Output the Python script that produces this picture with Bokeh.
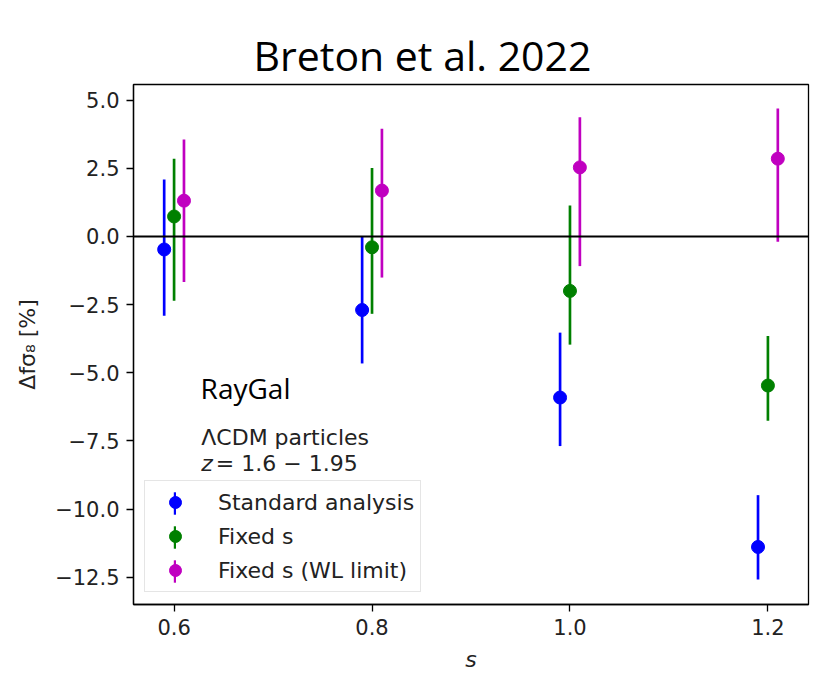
from bokeh.plotting import figure
from bokeh.models import (ColumnDataSource, Range1d, FixedTicker, CustomJSTickFormatter,
                          Span, Label, Legend, LegendItem, Title)
from bokeh.embed import file_html
from bokeh.resources import INLINE

# ---------------- data ----------------
S_VALUES = [0.6, 0.8, 1.0, 1.2]

SERIES_NAMES = ["Standard analysis", "Fixed s", "Fixed s (WL limit)"]

STD_CENTER = [-0.48, -2.70, -5.91, -11.39]
STD_LOW = [-2.91, -4.66, -7.69, -12.58]
STD_HIGH = [2.09, 0.00, -3.53, -9.49]

FIX_CENTER = [0.73, -0.40, -2.00, -5.47]
FIX_LOW = [-2.36, -2.84, -3.97, -6.76]
FIX_HIGH = [2.85, 2.51, 1.13, -3.65]

WL_CENTER = [1.31, 1.68, 2.53, 2.85]
WL_LOW = [-1.67, -1.51, -1.09, -0.20]
WL_HIGH = [3.55, 3.95, 4.37, 4.69]

X_TICKS = [0.6, 0.8, 1.0, 1.2]
X_TICK_LABELS = ["0.6", "0.8", "1.0", "1.2"]
Y_TICKS = [-12.5, -10.0, -7.5, -5.0, -2.5, 0.0, 2.5, 5.0]
Y_TICK_LABELS = ["\u221212.5", "\u221210.0", "\u22127.5", "\u22125.0", "\u22122.5", "0.0", "2.5", "5.0"]

TITLE = "Breton et al. 2022"
X_LABEL = "s"
Y_LABEL = "\u0394f\u03c3\u2088 [%]"

# ---------------- style ----------------
COLORS = ["#0000ff", "#008000", "#c000c0"]
DODGE = [-0.01, 0.0, 0.01]
BAR_W = 0.0027          # error-bar thickness in x data units (~2.7 px)
FONT = "DejaVu Sans"

p = figure(width=813, height=674, output_backend="svg", toolbar_location=None, tools="",
           x_range=Range1d(0.559, 1.241), y_range=Range1d(-13.5, 5.57),
           min_border_left=133, min_border_right=5, min_border_top=84, min_border_bottom=67)
p.title = None
p.background_fill_color = "white"
p.border_fill_color = "white"
p.outline_line_color = "black"
p.outline_line_width = 1.3
p.xgrid.visible = False
p.ygrid.visible = False

# visible title, then a transparent spacer between it and the frame
p.add_layout(Title(text=TITLE, align="left", offset=120, vertical_align="top", standoff=0,
                   text_font="Open Sans", text_font_size="41px", text_font_style="normal",
                   text_color="black"), "above")
p.add_layout(Title(text=" ", text_font_size="10px", text_alpha=0, standoff=14), "above")

for ax, tks, lbls in ((p.xaxis[0], X_TICKS, X_TICK_LABELS), (p.yaxis[0], Y_TICKS, Y_TICK_LABELS)):
    ax.ticker = FixedTicker(ticks=tks)
    ax.formatter = CustomJSTickFormatter(
        args=dict(tvals=tks, tlabels=lbls),
        code="const i = tvals.findIndex(t => Math.abs(t - tick) < 1e-9); return i >= 0 ? tlabels[i] : '';")
    ax.axis_line_color = "black"
    ax.axis_line_width = 1.3
    ax.major_tick_line_color = "black"
    ax.major_tick_line_width = 1.3
    ax.major_tick_out = 7
    ax.major_tick_in = 0
    ax.minor_tick_line_color = None
    ax.major_label_text_font = FONT
    ax.major_label_text_font_size = "21px"
    ax.major_label_text_color = "#222222"
    ax.axis_label_text_font = FONT
    ax.axis_label_text_font_size = "22px"
    ax.axis_label_text_color = "#222222"

p.xaxis.axis_label = X_LABEL
p.xaxis.axis_label_text_font_style = "italic"
p.xaxis.major_label_standoff = 7
p.xaxis.axis_label_standoff = 9
p.yaxis.axis_label = Y_LABEL
p.yaxis.axis_label_text_font_style = "normal"
p.yaxis.major_label_standoff = 7
p.yaxis.axis_label_standoff = 12

series = [
    (STD_CENTER, STD_LOW, STD_HIGH),
    (FIX_CENTER, FIX_LOW, FIX_HIGH),
    (WL_CENTER, WL_LOW, WL_HIGH),
]

circle_renderers = []
bar_renderers = []
for (center, low, high), color, dx in zip(series, COLORS, DODGE):
    src = ColumnDataSource(dict(x=[s + dx for s in S_VALUES], y=center, lo=low, hi=high))
    b = p.vbar(x="x", bottom="lo", top="hi", width=BAR_W, source=src,
               fill_color=color, line_color=None)
    bar_renderers.append(b)
    r = p.scatter(x="x", y="y", source=src, marker="circle", size=13,
                  fill_color=color, line_color=color)
    circle_renderers.append(r)

p.add_layout(Span(location=0, dimension="width", line_color="black", line_width=2))

# legend: circles + labels
legend_a = Legend(items=[LegendItem(label=n, renderers=[r]) for n, r in zip(SERIES_NAMES, circle_renderers)],
                  location=(11, 12), orientation="vertical",
                  glyph_width=48, glyph_height=30, label_height=30, spacing=4, padding=6,
                  label_standoff=19, margin=0,
                  label_text_font=FONT, label_text_font_size="22px", label_text_color="#222222",
                  border_line_color="#cccccc", border_line_width=1.2,
                  background_fill_color="white", background_fill_alpha=0.85)
p.add_layout(legend_a)
# legend overlay: vertical error-bar ticks through the legend markers
legend_b = Legend(items=[LegendItem(label=" ", renderers=[b]) for b in bar_renderers],
                  location=(39.5, 19), orientation="vertical",
                  glyph_width=3, glyph_height=28, label_height=28, spacing=6, padding=0,
                  label_standoff=0, margin=0, label_text_font_size="1px",
                  border_line_color=None, background_fill_alpha=0)
p.add_layout(legend_b)

# texts
p.add_layout(Label(x=0.6268, y=-5.56, text="RayGal", text_align="left", text_baseline="alphabetic",
                   text_font="Open Sans", text_font_size="28px", text_color="black"))
p.add_layout(Label(x=0.6275, y=-7.38, text="\u039bCDM particles", text_align="left",
                   text_baseline="alphabetic", text_font=FONT, text_font_size="22px", text_color="#222222"))
p.add_layout(Label(x=0.6275, y=-8.32, text="z", text_align="left", text_baseline="alphabetic",
                   text_font=FONT, text_font_size="22px", text_font_style="italic", text_color="#222222"))
p.add_layout(Label(x=0.6422, y=-8.32, text="= 1.6 \u2212 1.95", text_align="left",
                   text_baseline="alphabetic", text_font=FONT, text_font_size="22px", text_color="#222222"))

open("out.html", "w").write(file_html(p, INLINE))
